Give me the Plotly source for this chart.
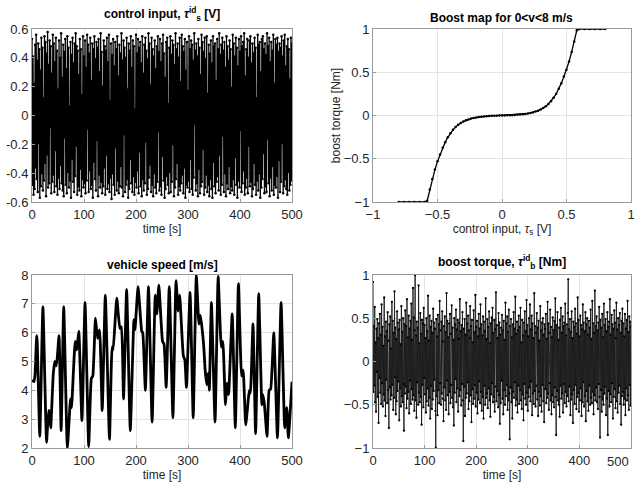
import numpy as np
import plotly.graph_objects as go

# ---------------- data ----------------
ctrl_input = [
0.53,-0.48,0.41,-0.55,0.22,-0.51,0.49,-0.36,0.56,-0.44,0.38,-0.53,0.50,-0.19,0.46,-0.57,0.31,-0.49,0.54,-0.40,
0.47,-0.52,0.12,-0.45,0.55,-0.33,0.51,-0.56,0.43,-0.27,0.58,-0.50,0.35,-0.47,0.52,-0.08,0.48,-0.54,0.29,-0.46,
0.56,-0.41,0.50,-0.53,0.37,-0.24,0.54,-0.49,0.45,-0.55,0.18,-0.43,0.52,-0.51,0.40,-0.34,0.57,-0.47,0.26,-0.52,
0.49,-0.56,0.44,-0.15,0.53,-0.48,0.32,-0.54,0.55,-0.39,0.47,-0.50,0.06,-0.45,0.51,-0.57,0.42,-0.30,0.54,-0.46,
0.36,-0.53,0.50,-0.42,0.57,-0.21,0.48,-0.55,0.45,-0.49,0.28,-0.52,0.53,-0.37,0.46,-0.56,0.14,-0.44,0.55,-0.50,
0.41,-0.47,0.52,-0.54,0.33,-0.45,0.56,-0.09,0.49,-0.53,0.43,-0.38,0.54,-0.51,0.24,-0.48,0.50,-0.57,0.46,-0.32,
0.55,-0.44,0.39,-0.52,0.51,-0.17,0.47,-0.56,0.53,-0.41,0.30,-0.50,0.57,-0.46,0.44,-0.54,0.20,-0.49,0.52,-0.36,
0.48,-0.55,0.45,-0.27,0.54,-0.51,0.37,-0.47,0.56,-0.53,0.10,-0.43,0.50,-0.58,0.42,-0.40,0.53,-0.48,0.34,-0.55,
0.51,-0.22,0.46,-0.52,0.55,-0.45,0.27,-0.54,0.49,-0.49,0.43,-0.35,0.57,-0.50,0.38,-0.56,0.52,-0.13,0.47,-0.53,
0.40,-0.48,0.54,-0.44,0.18,-0.57,0.50,-0.51,0.45,-0.30,0.55,-0.47,0.33,-0.53,0.52,-0.42,0.48,-0.55,0.04,-0.46,
0.56,-0.50,0.43,-0.38,0.53,-0.54,0.47,-0.25,0.51,-0.49,0.36,-0.56,0.55,-0.44,0.29,-0.52,0.49,-0.47,0.54,-0.18,
0.45,-0.55,0.39,-0.51,0.57,-0.43,0.50,-0.34,0.21,-0.53,0.54,-0.48,0.46,-0.56,0.41,-0.40,0.52,-0.50,0.32,-0.54,
0.48,-0.46,0.55,-0.11,0.44,-0.52,0.53,-0.49,0.37,-0.55,0.50,-0.28,0.56,-0.45,0.43,-0.57,0.26,-0.51,0.51,-0.42,
0.54,-0.48,0.08,-0.54,0.47,-0.39,0.55,-0.53,0.42,-0.46,0.52,-0.20,0.49,-0.56,0.35,-0.50,0.57,-0.44,0.46,-0.33,
0.50,-0.55,0.40,-0.49,0.54,-0.52,0.23,-0.47,0.56,-0.41,0.48,-0.54,0.44,-0.36,0.53,-0.57,0.31,-0.48,0.51,-0.50,
0.17,-0.45,0.55,-0.53,0.46,-0.30,0.52,-0.51,0.49,-0.55,0.38,-0.43,0.57,-0.06,0.45,-0.52,0.50,-0.47,0.41,-0.56,
0.53,-0.37,0.47,-0.54,0.28,-0.49,0.56,-0.46,0.51,-0.23,0.44,-0.55,0.54,-0.50,0.39,-0.41,0.55,-0.53,0.15,-0.48,
0.49,-0.56,0.43,-0.44,0.52,-0.51,0.36,-0.57,0.55,-0.32,0.48,-0.49,0.50,-0.54,0.24,-0.46,0.53,-0.42,0.46,-0.52,
0.57,-0.27,0.42,-0.55,0.49,-0.48,0.54,-0.14,0.45,-0.53,0.51,-0.40,0.33,-0.56,0.55,-0.47,0.48,-0.51,0.38,-0.35,
0.52,-0.54,0.46,-0.49,0.19,-0.52,0.56,-0.44,0.50,-0.55,0.41,-0.29,0.54,-0.48,0.47,-0.57,0.34,-0.45,0.53,-0.50,
0.44,-0.10,0.55,-0.53,0.48,-0.47,0.51,-0.38,0.57,-0.55,0.27,-0.50,0.46,-0.43,0.53,-0.54,0.40,-0.21,0.52,-0.49,
0.55,-0.46,0.36,-0.56,0.50,-0.51,0.43,-0.33,0.54,-0.48,0.47,-0.55,0.12,-0.45,0.56,-0.52,0.49,-0.40,0.51,-0.57,
0.30,-0.50,0.53,-0.44,0.55,-0.26,0.46,-0.54,0.50,-0.49,0.42,-0.53,0.57,-0.16,0.48,-0.47,0.54,-0.56,0.37,-0.43,
0.51,-0.52,0.45,-0.35,0.56,-0.55,0.22,-0.48,0.53,-0.50,0.49,-0.42,0.54,-0.57,0.44,-0.31,0.50,-0.53,0.47,-0.46,
0.55,-0.19,0.41,-0.54,0.52,-0.49,0.56,-0.44,0.34,-0.51,0.48,-0.55,0.53,-0.39,0.46,-0.52,0.25,-0.48,0.54,-0.45,
0.50]

boost_torque = [
0.92,-0.35,0.41,-0.28,0.63,-0.47,0.22,-0.58,0.38,-0.12,0.49,-0.41,0.27,-0.71,0.44,-0.19,0.55,-0.36,0.31,-0.49,
0.66,-0.25,0.40,-0.52,0.18,-0.38,0.74,-0.45,0.29,-0.63,0.46,-0.21,0.35,-0.48,0.57,-0.33,0.24,-0.77,0.43,-0.30,
0.52,-0.44,0.15,-0.39,0.69,-0.27,0.47,-0.56,0.33,-0.42,0.81,-0.18,0.39,-0.61,0.26,-0.46,0.58,-0.34,0.45,-0.23,
0.37,-0.68,0.48,-0.31,0.20,-0.52,0.64,-0.40,0.34,-0.47,0.50,-0.26,-0.80,0.43,-0.37,0.59,-0.29,0.41,-0.54,0.72,
-0.43,0.28,-0.35,0.53,-0.60,0.38,-0.22,0.47,-0.49,0.67,-0.32,0.25,-0.44,0.85,-0.39,0.51,-0.57,0.36,1.00,-0.45,
0.30,-0.65,0.46,-0.24,0.39,-0.50,0.88,-0.36,0.21,-0.47,0.56,-0.41,0.32,-0.73,0.48,-0.27,0.44,-0.53,0.62,-0.19,
0.42,-0.38,0.27,-0.59,0.50,-0.46,0.35,-0.31,0.76,-0.51,0.24,-0.42,0.53,-0.66,0.40,-0.28,0.47,-0.55,0.33,-0.44,
0.61,-0.34,0.45,-0.21,0.38,-0.57,-1.00,0.49,-0.40,0.29,-0.62,0.54,-0.33,0.43,-0.48,0.70,-0.25,0.36,-0.50,0.46,
-0.37,0.58,-0.43,0.23,-0.69,0.41,-0.30,0.52,-0.45,0.34,-0.56,0.79,-0.22,0.47,-0.39,0.28,-0.61,0.44,-0.35,0.55,
-0.48,0.32,-0.27,0.65,-0.42,0.39,-0.53,0.25,-0.74,0.50,-0.36,0.43,-0.20,0.60,-0.47,0.37,-0.31,0.48,-0.58,0.26,
0.45,-0.40,0.72,-0.33,0.35,-0.51,0.42,-0.26,0.57,-0.45,-0.92,0.38,-0.29,0.49,-0.63,0.31,-0.42,0.68,-0.37,0.44,
-0.24,0.53,-0.55,0.36,-0.46,0.27,0.64,-0.39,0.41,-0.70,0.48,-0.32,0.22,-0.49,0.59,-0.43,0.34,-0.27,0.77,-0.52,
0.40,-0.36,0.47,-0.60,0.29,-0.44,0.55,-0.23,0.38,-0.48,0.66,-0.35,0.43,-0.57,0.30,-0.41,0.52,-0.66,0.46,-0.28,
0.35,-0.50,0.73,-0.42,0.26,-0.37,0.49,-0.54,0.40,-0.31,0.58,-0.45,0.21,-0.64,0.44,-0.38,0.51,-0.25,0.62,-0.47,
0.33,-0.41,0.48,-0.58,0.37,-0.29,0.80,-0.46,0.42,-0.34,0.27,-0.53,0.56,-0.39,0.45,-0.72,0.31,-0.48,0.39,-0.22,
0.54,-0.43,0.36,-0.61,0.47,-0.33,0.25,-0.50,0.68,-0.40,0.44,-0.27,0.52,-0.56,0.34,-0.45,0.60,-0.37,-0.90,0.41,
-0.30,0.49,-0.47,0.28,-0.66,0.43,-0.35,0.57,-0.42,0.38,-0.24,0.75,-0.51,0.32,-0.44,0.46,-0.59,0.36,-0.28,0.53,
-0.49,0.40,-0.33,0.62,-0.45,0.22,-0.55,0.48,-0.38,0.30,-0.68,0.45,-0.26,0.58,-0.43,0.35,-0.50,0.71,-0.36,0.42,
-0.57,0.29,-0.41,0.50,-0.30,0.66,-0.46,0.37,-0.23,0.53,-0.62,0.44,-0.37,0.27,-0.49,0.79,-0.34,0.41,-0.52,0.33,
-0.28,0.56,-0.44,0.39,-0.63,0.47,-0.35,0.24,-0.51,0.64,-0.40,0.36,-0.58,0.45,-0.27,0.50,-0.46,0.31,-0.70,0.43,
0.38,-0.32,0.55,-0.48,0.26,-0.42,0.69,-0.37,0.44,-0.56,0.33,-0.25,0.60,-0.45,0.40,-0.61,0.28,-0.39,0.51,-0.47,
0.36,-0.53,0.47,-0.30,0.73,-0.41,-0.85,0.42,-0.34,0.57,-0.45,0.25,-0.50,0.39,-0.64,0.48,-0.28,0.62,-0.43,0.33,
-0.37,0.52,-0.59,0.41,-0.26,0.45,-0.48,0.67,-0.35,0.30,-0.52,0.43,-0.40,0.56,0.95,-0.46,0.37,-0.29,0.49,-0.62,
0.34,-0.44,0.58,-0.38,0.27,-0.71,0.46,-0.33,0.40,-0.49,0.61,-0.27,0.44,-0.55,0.32,-0.41,0.74,-0.36,0.48,-0.58,
0.29,-0.45,0.53,-0.31,0.42,-0.63,0.37,-0.47,0.66,-0.24,0.45,-0.52,0.35,-0.40,0.57,-0.69,0.43,-0.34,0.50,-0.46,
0.31,-0.57,0.47,-0.28,0.39,-0.50,0.60,-0.42,0.26,-0.48,0.70,-0.35,0.44,-0.61,0.33,-0.39,0.82,-0.45,0.41,-0.30,
0.52,-0.47,0.36,-0.55,0.45,-0.26,0.63,-0.41,-0.88,0.48,-0.33,0.39,-0.58,0.55,-0.44,0.28,-0.50,0.67,-0.37,0.42,
-0.29,0.49,-0.62,0.35,-0.43,0.57,-0.85,0.40,-0.34,0.46,-0.52,0.72,-0.38,0.31,-0.47,0.54,-0.25,0.43,-0.66,0.38,
-0.41,0.59,-0.32,0.45,-0.54,0.27,0.68,-0.46,0.37,-0.59,0.50,-0.36,0.42,-0.28,0.56,-0.49,0.33,-0.73,0.47,-0.40,
0.61,-0.35,0.44,-0.50,0.29,-0.43,0.55,-0.62,0.38,-0.31,0.48,-0.45,0.70,-0.39,0.34,-0.56,0.52,-0.27,0.46,-0.51,
0.40]

t_end = 500.0
t_ctrl = np.linspace(0, t_end, len(ctrl_input))
t_boost = np.linspace(0, t_end, len(boost_torque))

speed_t = [0,4,6,9,10,15,21,28,32,34,36,41,44,47,52,56,61,68,74,76,83,86,90,96,102,109,114,117,122,126,
           130,135,141,149,154,156,163,169,172,176,182,189,196,198,204,211,213,218,224,231,237,240,244,251,
           254,258,264,271,277,281,284,291,294,297,304,310,316,321,324,330,333,336,339,341,345,352,358,364,
           367,372,375,378,385,391,397,403,406,411,416,418,420,425,430,436,442,444,447,452,456,459,465,472,
           479,486,490,493,500]
speed_v = [4.35,4.3,4.6,5.9,5.7,2.4,6.9,2.2,3.3,3.2,2.7,4.6,5.0,4.85,5.9,2.6,6.9,2.0,3.7,3.4,5.7,5.4,6.05,2.95,
           7.05,2.05,4.4,4.5,6.5,5.8,6.1,3.3,7.3,2.3,5.5,5.4,7.2,6.15,6.2,3.7,7.5,2.6,6.45,6.1,7.6,6.05,6.0,
           4.0,7.6,2.9,7.3,6.65,7.65,5.7,5.6,4.1,7.6,3.05,7.8,6.75,7.3,5.2,5.05,4.1,7.4,3.05,8.0,6.3,6.6,5.6,
           4.7,4.2,4.6,4.0,7.05,2.9,7.95,5.5,5.7,3.5,4.25,3.85,6.65,2.7,7.7,4.5,4.7,2.8,3.7,4.0,3.9,6.3,2.5,
           7.35,3.5,3.85,3.5,2.4,4.0,4.05,6.0,2.35,7.05,2.7,3.4,2.35,4.3]

map_u = [-0.80,-0.76,-0.72,-0.68,-0.64,-0.60,-0.58,-0.56,-0.54,-0.52,-0.50,-0.48,-0.46,-0.44,-0.42,-0.40,
         -0.38,-0.36,-0.34,-0.32,-0.30,-0.28,-0.26,-0.24,-0.22,-0.20,-0.18,-0.16,-0.14,-0.12,-0.10,-0.08,
         -0.06,-0.04,-0.02,0.00,0.02,0.04,0.06,0.08,0.10,0.12,0.14,0.16,0.18,0.20,0.22,0.24,0.26,0.28,0.30,
         0.32,0.34,0.36,0.38,0.40,0.42,0.44,0.46,0.48,0.50,0.52,0.54,0.56,0.58,0.60,0.64,0.68,0.72,0.76,0.80]
map_tau = [-1,-1,-1,-1,-1,-1,-0.985,-0.855,-0.735,-0.625,-0.530,-0.450,-0.374,-0.308,-0.252,-0.205,
           -0.166,-0.134,-0.108,-0.087,-0.070,-0.056,-0.045,-0.036,-0.029,-0.023,-0.018,-0.014,-0.011,-0.008,
           -0.006,-0.004,-0.003,-0.002,-0.001,0.0,0.001,0.002,0.003,0.004,0.006,0.008,0.011,0.014,0.018,0.023,
           0.029,0.036,0.045,0.056,0.070,0.087,0.108,0.134,0.166,0.205,0.252,0.308,0.374,0.450,0.530,0.625,
           0.735,0.855,0.985,1,1,1,1,1,1]

time_ticks = [0, 100, 200, 300, 400, 500]
time_ticklabels = ["0", "100", "200", "300", "400", "500"]

# ---------------- figure ----------------
FONT = "Liberation Sans, Arial, Helvetica, sans-serif"
TXT = "#262626"
GRID = "#e3e3e3"
BOX = "#9a9a9a"

W, H = 641, 490

def fx(X):
    return X / W

def fy(Y):
    return 1 - Y / H

fig = go.Figure()

fig.add_trace(go.Scatter(x=t_ctrl, y=ctrl_input, mode="lines+markers",
                         line=dict(color="black", width=1.3), marker=dict(color="black", size=2.5),
                         xaxis="x", yaxis="y", showlegend=False))
fig.add_trace(go.Scatter(x=map_u, y=map_tau, mode="lines+markers",
                         line=dict(color="black", width=1.3), marker=dict(color="black", size=2.5),
                         xaxis="x2", yaxis="y2", showlegend=False))
fig.add_trace(go.Scatter(x=speed_t, y=speed_v, mode="lines",
                         line=dict(color="black", width=2.8, shape="spline", smoothing=0.4),
                         xaxis="x3", yaxis="y3", showlegend=False))
fig.add_trace(go.Scatter(x=t_boost, y=boost_torque, mode="lines+markers",
                         line=dict(color="#1a1a1a", width=0.9), marker=dict(color="black", size=2.3),
                         xaxis="x4", yaxis="y4", showlegend=False))

xl = [fx(32), fx(292)]
xr = [fx(373), fx(631)]
yt = [fy(202), fy(29)]
yb = [fy(448), fy(275)]

def ax(domain, rng, dtick, anchor, title=None, tickvals=None, ticktext=None):
    d = dict(domain=domain, range=rng, anchor=anchor, showgrid=True, gridcolor=GRID, gridwidth=1,
             zeroline=False, showline=True, linecolor=BOX, linewidth=1, mirror=True,
             ticks="inside", ticklen=3, tickcolor=BOX, automargin=False,
             tickfont=dict(family=FONT, size=13, color=TXT))
    if tickvals is not None:
        d["tickvals"] = tickvals
        d["ticktext"] = ticktext
    else:
        d["dtick"] = dtick
        d["tick0"] = rng[0]
    if title:
        d["title"] = dict(text=title, font=dict(family=FONT, size=12, color=TXT), standoff=0)
    return d

fig.update_layout(
    width=W, height=H, paper_bgcolor="white", plot_bgcolor="white",
    margin=dict(l=0, r=0, t=0, b=0, autoexpand=False),
    xaxis=ax(xl, [0, 500], None, "y", "time [s]", tickvals=time_ticks, ticktext=time_ticklabels),
    yaxis=ax(yt, [-0.6, 0.6], None, "x", tickvals=[-0.6, -0.4, -0.2, 0, 0.2, 0.4, 0.6],
             ticktext=["-0.6", "-0.4", "-0.2", "0", "0.2", "0.4", "0.6"]),
    xaxis2=ax(xr, [-1, 1], 0.5, "y2", "control input, <i>τ</i><sub>s</sub> [V]"),
    yaxis2=ax(yt, [-1, 1], 0.5, "x2", "boost torque [Nm]"),
    xaxis3=ax(xl, [0, 500], None, "y3", "time [s]", tickvals=time_ticks, ticktext=time_ticklabels),
    yaxis3=ax(yb, [2, 8], 1, "x3"),
    # last label of this axis sits at the window edge: drawn as an annotation right-aligned to the tick
    xaxis4=ax(xr, [0, 500], None, "y4", "time [s]", tickvals=time_ticks,
              ticktext=time_ticklabels[:-1] + [""]),
    yaxis4=ax(yb, [-1, 1], 0.5, "x4"),
)

fig.add_annotation(x=time_ticks[-1], xref="x4", y=fy(461), yref="paper", text=time_ticklabels[-1],
                   showarrow=False, xanchor="right", yanchor="middle",
                   font=dict(family=FONT, size=13, color=TXT))

titles = [
    ((xl[0] + xl[1]) / 2, fy(14), "<b>control input, <i>τ</i><sup>id</sup><sub>s</sub> [V]</b>"),
    ((xr[0] + xr[1]) / 2, fy(18), "<b>Boost map for 0&lt;v&lt;8 m/s</b>"),
    ((xl[0] + xl[1]) / 2, fy(265), "<b>vehicle speed [m/s]</b>"),
    ((xr[0] + xr[1]) / 2, fy(262), "<b>boost torque, <i>τ</i><sup>id</sup><sub>b</sub> [Nm]</b>"),
]
for x, y, txt in titles:
    fig.add_annotation(x=x, y=y, xref="paper", yref="paper", text=txt, showarrow=False,
                       font=dict(family=FONT, size=12, color="black"), xanchor="center", yanchor="middle")

# remove the default 8px page margin so the 641x490 figure fills the window exactly
fig.write_html("out.html", config={"displayModeBar": False},
               post_script="document.body.style.margin='0px';document.body.style.overflow='hidden';")
